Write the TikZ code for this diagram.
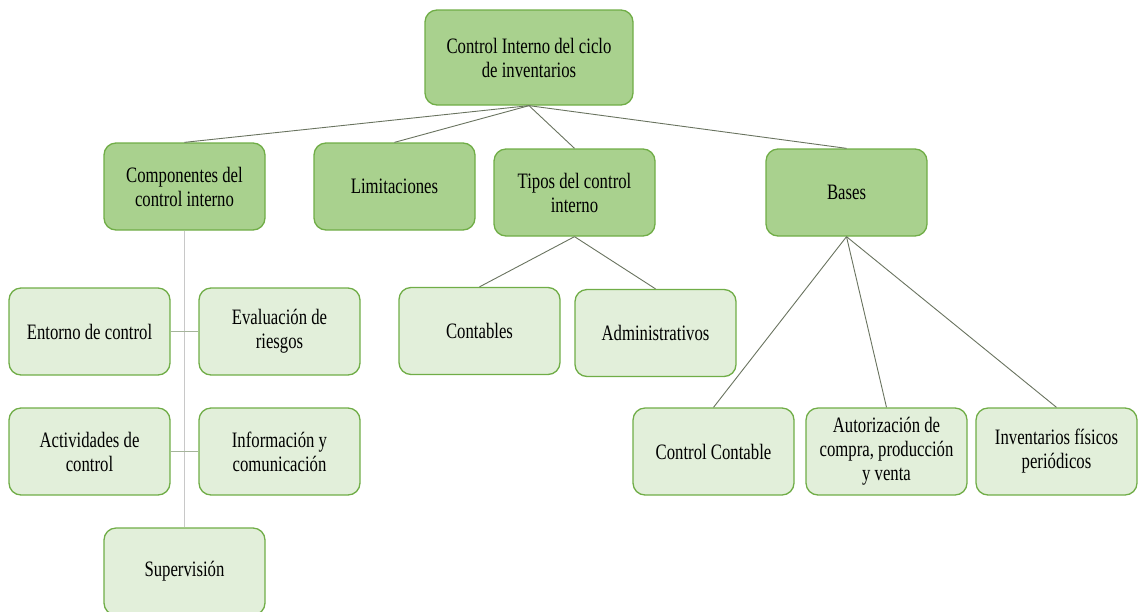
\documentclass[tikz,border=0pt]{standalone}
\usepackage{fontspec}
\setmainfont[FakeStretch=0.76]{Liberation Serif}
\definecolor{darkfill}{RGB}{169,209,142}
\definecolor{lightfill}{RGB}{226,239,218}
\definecolor{boxline}{RGB}{112,173,71}
\definecolor{conn}{RGB}{105,115,95}
\definecolor{connlight}{RGB}{200,200,200}
\definecolor{connmid}{RGB}{165,180,155}
\tikzset{
  box/.style={draw=boxline, line width=1.3pt, rounded corners=12pt, minimum width=161pt, minimum height=87pt, align=center, inner sep=2pt, font=\fontsize{22}{24}\selectfont},
  dark/.style={box, fill=darkfill},
  light/.style={box, fill=lightfill},
  link/.style={draw=conn, line width=0.9pt},
  linkl/.style={draw=connlight, line width=1.2pt},
  linkm/.style={draw=connmid, line width=1.2pt}
}
\begin{document}
\begin{tikzpicture}[x=1pt,y=-1pt]
\useasboundingbox (0,0) rectangle (1139,611);
\node[dark, minimum width=208pt, minimum height=95pt] (top) at (529,57.5) {Control Interno del ciclo\\de inventarios};
\node[dark] (comp) at (184.5,186.5) {Componentes del\\control interno};
\node[dark] (lim) at (394.5,186.5) {Limitaciones};
\node[dark] (tipos) at (574.5,192.5) {Tipos del control\\interno};
\node[dark] (bases) at (846.5,192.5) {Bases};
\node[light] (ent) at (89.5,331.5) {Entorno de control};
\node[light] (eval) at (279.5,331.5) {Evaluación de\\riesgos};
\node[light] (act) at (89.5,451.5) {Actividades de\\control};
\node[light] (info) at (279.5,451.5) {Información y\\comunicación};
\node[light] (sup) at (184.5,571.5) {Supervisión};
\node[light] (cont) at (479.5,331) {Contables};
\node[light] (adm) at (655.5,333) {Administrativos};
\node[light] (cc) at (713.5,451.5) {Control Contable};
\node[light] (aut) at (886.5,451.5) {Autorización de\\compra, producción\\y venta};
\node[light] (inv) at (1056.5,451.5) {Inventarios físicos\\periódicos};
\draw[link] (top.south) -- (comp.north);
\draw[link] (top.south) -- (lim.north);
\draw[link] (top.south) -- (tipos.north);
\draw[link] (top.south) -- (bases.north);
\draw[link] (tipos.south) -- (cont.north);
\draw[link] (tipos.south) -- (adm.north);
\draw[link] (bases.south) -- (cc.north);
\draw[link] (bases.south) -- (aut.north);
\draw[link] (bases.south) -- (inv.north);
\draw[linkl] (comp.south) -- (sup.north);
\draw[linkm] (ent.east) -- (eval.west);
\draw[linkm] (act.east) -- (info.west);
\end{tikzpicture}
\end{document}
